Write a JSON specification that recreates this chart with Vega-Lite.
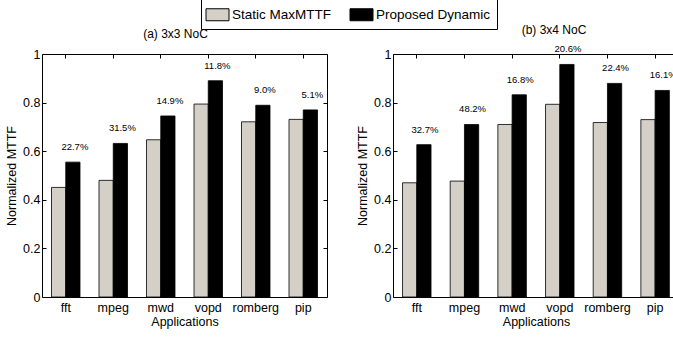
{
  "$schema": "https://vega.github.io/schema/vega-lite/v6.json",
  "padding": {"left": 5, "top": -3, "right": 0, "bottom": 0},
  "background": "white",
  "data": {"values": [
    {"panel": "a", "app": "fft", "series": "Static MaxMTTF", "value": 0.451, "pct": ""},
    {"panel": "a", "app": "fft", "series": "Proposed Dynamic", "value": 0.555, "pct": "22.7%"},
    {"panel": "a", "app": "mpeg", "series": "Static MaxMTTF", "value": 0.480, "pct": ""},
    {"panel": "a", "app": "mpeg", "series": "Proposed Dynamic", "value": 0.632, "pct": "31.5%"},
    {"panel": "a", "app": "mwd", "series": "Static MaxMTTF", "value": 0.647, "pct": ""},
    {"panel": "a", "app": "mwd", "series": "Proposed Dynamic", "value": 0.745, "pct": "14.9%"},
    {"panel": "a", "app": "vopd", "series": "Static MaxMTTF", "value": 0.794, "pct": ""},
    {"panel": "a", "app": "vopd", "series": "Proposed Dynamic", "value": 0.890, "pct": "11.8%"},
    {"panel": "a", "app": "romberg", "series": "Static MaxMTTF", "value": 0.721, "pct": ""},
    {"panel": "a", "app": "romberg", "series": "Proposed Dynamic", "value": 0.789, "pct": "9.0%"},
    {"panel": "a", "app": "pip", "series": "Static MaxMTTF", "value": 0.731, "pct": ""},
    {"panel": "a", "app": "pip", "series": "Proposed Dynamic", "value": 0.770, "pct": "5.1%"},
    {"panel": "b", "app": "fft", "series": "Static MaxMTTF", "value": 0.470, "pct": ""},
    {"panel": "b", "app": "fft", "series": "Proposed Dynamic", "value": 0.627, "pct": "32.7%"},
    {"panel": "b", "app": "mpeg", "series": "Static MaxMTTF", "value": 0.477, "pct": ""},
    {"panel": "b", "app": "mpeg", "series": "Proposed Dynamic", "value": 0.710, "pct": "48.2%"},
    {"panel": "b", "app": "mwd", "series": "Static MaxMTTF", "value": 0.710, "pct": ""},
    {"panel": "b", "app": "mwd", "series": "Proposed Dynamic", "value": 0.832, "pct": "16.8%"},
    {"panel": "b", "app": "vopd", "series": "Static MaxMTTF", "value": 0.793, "pct": ""},
    {"panel": "b", "app": "vopd", "series": "Proposed Dynamic", "value": 0.957, "pct": "20.6%"},
    {"panel": "b", "app": "romberg", "series": "Static MaxMTTF", "value": 0.718, "pct": ""},
    {"panel": "b", "app": "romberg", "series": "Proposed Dynamic", "value": 0.879, "pct": "22.4%"},
    {"panel": "b", "app": "pip", "series": "Static MaxMTTF", "value": 0.730, "pct": ""},
    {"panel": "b", "app": "pip", "series": "Proposed Dynamic", "value": 0.850, "pct": "16.1%"}
  ]},
  "config": {
    "font": "Liberation Sans",
    "view": {"stroke": "black", "strokeWidth": 1},
    "axis": {"labelFont": "Liberation Sans", "titleFont": "Liberation Sans", "labelColor": "black", "titleColor": "black", "titleFontWeight": "normal", "labelFontSize": 12.5, "titleFontSize": 12.5, "grid": false, "domain": false, "tickColor": "black"},
    "title": {"font": "Liberation Sans", "fontSize": 12, "fontWeight": "normal", "color": "black", "offset": 7},
    "legend": {"labelFont": "Liberation Sans", "labelFontSize": 13.5, "labelColor": "black"}
  },
  "bounds": "flush",
  "spacing": 66,
  "resolve": {"legend": {"fill": "shared"}},
  "hconcat": [
    {
      "width": 285, "height": 243,
      "title": {"text": "(a) 3x3 NoC", "dx": -9},
      "transform": [{"filter": "datum.panel === 'a'"}],
      "encoding": {
        "x": {"field": "app", "type": "nominal", "sort": ["fft", "mpeg", "mwd", "vopd", "romberg", "pip"], "scale": {"paddingInner": 0.4, "paddingOuter": 0.2}, "axis": {"title": "Applications", "labelAngle": 0, "tickSize": -4, "labelPadding": 8, "titlePadding": 2}},
        "xOffset": {"field": "series", "type": "nominal", "sort": ["Static MaxMTTF", "Proposed Dynamic"]},
        "y": {"field": "value", "type": "quantitative", "scale": {"domain": [0, 1]}, "axis": {"title": "Normalized MTTF", "values": [0, 0.2, 0.4, 0.6, 0.8, 1], "format": ".1~f", "tickSize": -4, "labelPadding": 6, "titlePadding": 4}}
      },
      "resolve": {"axis": {"y": "independent", "x": "independent"}},
      "layer": [
        {"mark": {"type": "bar", "stroke": "black", "strokeWidth": 0.8},
         "encoding": {"fill": {"field": "series", "type": "nominal", "sort": ["Static MaxMTTF", "Proposed Dynamic"], "scale": {"range": ["#d4d0c8", "#000000"]},
           "legend": {"title": null, "orient": "none", "legendX": 159, "legendY": -56, "direction": "horizontal", "strokeColor": "black", "padding": 6, "symbolType": "M-1.15,-0.6H1.15V0.6H-1.15Z", "symbolSize": 400, "symbolStrokeColor": "black", "symbolStrokeWidth": 1, "symbolOpacity": 1, "columnPadding": 16, "labelOffset": 4}}}},
        {"mark": {"type": "text", "fontSize": 9.5, "dy": -10, "dx": 2, "baseline": "bottom", "color": "black"},
         "encoding": {"text": {"field": "pct"},
           "x": {"field": "app", "type": "nominal", "sort": ["fft", "mpeg", "mwd", "vopd", "romberg", "pip"], "axis": {"orient": "top", "title": null, "labels": false, "tickSize": -4}},
           "y": {"field": "value", "type": "quantitative", "scale": {"domain": [0, 1]}, "axis": {"orient": "right", "title": null, "labels": false, "values": [0, 0.2, 0.4, 0.6, 0.8, 1], "tickSize": -4}}}}
      ]
    },
    {
      "width": 286, "height": 243,
      "title": {"text": "(b) 3x4 NoC", "dx": 18},
      "transform": [{"filter": "datum.panel === 'b'"}],
      "encoding": {
        "x": {"field": "app", "type": "nominal", "sort": ["fft", "mpeg", "mwd", "vopd", "romberg", "pip"], "scale": {"paddingInner": 0.4, "paddingOuter": 0.2}, "axis": {"title": "Applications", "labelAngle": 0, "tickSize": -4, "labelPadding": 8, "titlePadding": 2}},
        "xOffset": {"field": "series", "type": "nominal", "sort": ["Static MaxMTTF", "Proposed Dynamic"]},
        "y": {"field": "value", "type": "quantitative", "scale": {"domain": [0, 1]}, "axis": {"title": "Normalized MTTF", "values": [0, 0.2, 0.4, 0.6, 0.8, 1], "format": ".1~f", "tickSize": -4, "labelPadding": 6, "titlePadding": 4}}
      },
      "resolve": {"axis": {"y": "independent", "x": "independent"}},
      "layer": [
        {"mark": {"type": "bar", "stroke": "black", "strokeWidth": 0.8},
         "encoding": {"fill": {"field": "series", "type": "nominal", "sort": ["Static MaxMTTF", "Proposed Dynamic"], "scale": {"range": ["#d4d0c8", "#000000"]}}}},
        {"mark": {"type": "text", "fontSize": 9.5, "dy": -10, "dx": 1, "baseline": "bottom", "color": "black"},
         "encoding": {"text": {"field": "pct"},
           "x": {"field": "app", "type": "nominal", "sort": ["fft", "mpeg", "mwd", "vopd", "romberg", "pip"], "axis": {"orient": "top", "title": null, "labels": false, "tickSize": -4}},
           "y": {"field": "value", "type": "quantitative", "scale": {"domain": [0, 1]}, "axis": {"orient": "right", "title": null, "labels": false, "values": [0, 0.2, 0.4, 0.6, 0.8, 1], "tickSize": -4}}}}
      ]
    }
  ]
}
